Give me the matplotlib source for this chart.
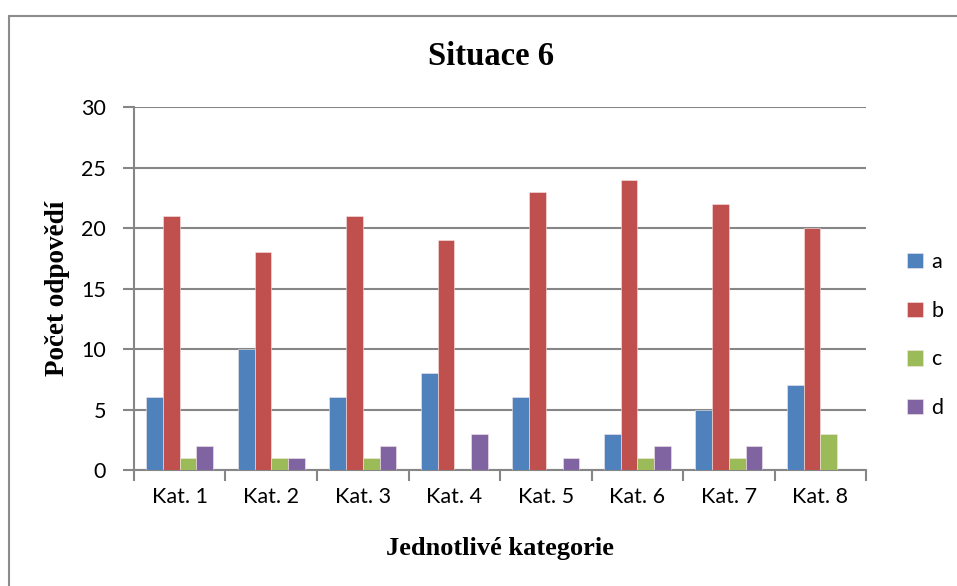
import numpy as np
import matplotlib
matplotlib.use('Agg')
import matplotlib.pyplot as plt
from matplotlib.patches import Rectangle

# Data
categories = ['Kat. 1', 'Kat. 2', 'Kat. 3', 'Kat. 4', 'Kat. 5', 'Kat. 6', 'Kat. 7', 'Kat. 8']
series_names = ['a', 'b', 'c', 'd']
a_vals = [6, 10, 6, 8, 6, 3, 5, 7]
b_vals = [21, 18, 21, 19, 23, 24, 22, 20]
c_vals = [1, 1, 1, 0, 0, 1, 1, 3]
d_vals = [2, 1, 2, 3, 1, 2, 2, 0]
colors = ['#4F81BD', '#C0504D', '#9BBB59', '#8064A2']

fig = plt.figure(figsize=(9.57, 5.86), dpi=100)
ax = fig.add_axes([0.140, 0.198, 0.765, 0.619])

# outer chart border (only top/left visible in reference)
fig.patches.append(Rectangle((9 / 957, -0.1), 2.0, 1 - 16 / 586 + 0.1,
                             transform=fig.transFigure, fill=False,
                             edgecolor='#8c8c8c', linewidth=1.5))

x = np.arange(len(categories))
bw = 0.183
for i, (vals, name) in enumerate(zip([a_vals, b_vals, c_vals, d_vals], series_names)):
    ax.bar(x - 1.5 * bw + i * bw, vals, bw, color=colors[i], label=name,
           edgecolor='#f5e6e6', linewidth=0.4, zorder=3)

ax.set_xlim(-0.5, len(categories) - 0.5)
ax.set_ylim(0, 30)
ax.set_yticks(range(0, 31, 5))
ax.grid(axis='y', color='#868686', linewidth=1.5, zorder=0)
ax.set_axisbelow(True)

ax.set_xticks(x)
ax.set_xticklabels(categories, family='Lato', fontsize=15.5)
ax.tick_params(axis='x', length=0, pad=12)
ax.set_xticks(np.arange(-0.5, len(categories)), minor=True)
ax.tick_params(axis='x', which='minor', length=8, width=1.5, color='#868686', direction='out')
ax.tick_params(axis='y', length=8, width=1.5, color='#868686', direction='out', pad=12)
for lab in ax.get_yticklabels():
    lab.set_family('Lato')
    lab.set_fontsize(15.5)

for side in ['top', 'right']:
    ax.spines[side].set_visible(False)
for side in ['left', 'bottom']:
    ax.spines[side].set_color('#868686')
    ax.spines[side].set_linewidth(1.5)

ax.set_ylabel('Počet odpovědí', family='Liberation Serif', fontweight='bold', fontsize=19.5)
ax.yaxis.set_label_coords(-0.088, 0.5)
ax.set_xlabel('Jednotlivé kategorie', family='Liberation Serif', fontweight='bold', fontsize=19)
ax.xaxis.set_label_coords(0.5, -0.185)
fig.text(0.513, 0.903, 'Situace 6', family='Liberation Serif', fontweight='bold', fontsize=23.5,
         ha='center', va='center')

leg = ax.legend(loc='center left', bbox_to_anchor=(1.03, 0.372), frameon=False,
                prop={'family': 'Lato', 'size': 15.5}, handlelength=0.72, handleheight=0.72,
                labelspacing=1.33, handletextpad=0.4)

fig.savefig('out.png', dpi=100)
